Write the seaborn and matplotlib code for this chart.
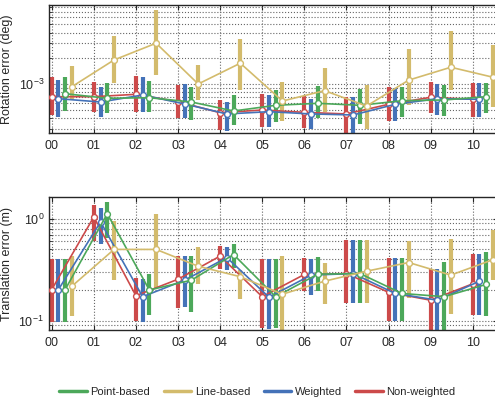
import numpy as np
import pandas as pd
import seaborn as sns
import matplotlib.pyplot as plt
from matplotlib.lines import Line2D

# sequences
seqs = ['00', '01', '02', '03', '04', '05', '06', '07', '08', '09', '10']

# rotation error (deg), x 1e-3: median, lower, upper
rot_red = [0.71, 0.71, 0.757, 0.621, 0.461, 0.496, 0.466, 0.446, 0.578, 0.698, 0.662]
rot_red_lo = [0.434, 0.47, 0.474, 0.397, 0.289, 0.316, 0.308, 0.25, 0.369, 0.454, 0.407]
rot_red_hi = [1.2, 1.06, 1.24, 0.966, 0.65, 0.757, 0.729, 0.71, 0.915, 1.05, 1.03]

rot_blue = [0.673, 0.615, 0.743, 0.583, 0.446, 0.474, 0.446, 0.434, 0.578, 0.673, 0.662]
rot_blue_lo = [0.414, 0.414, 0.474, 0.397, 0.282, 0.311, 0.297, 0.25, 0.372, 0.434, 0.414]
rot_blue_hi = [1.11, 0.915, 1.2, 0.99, 0.621, 0.743, 0.673, 0.71, 0.891, 1.0, 1.02]

rot_green = [0.77, 0.68, 0.691, 0.615, 0.483, 0.563, 0.594, 0.563, 0.637, 0.65, 0.71]
rot_green_lo = [0.483, 0.454, 0.474, 0.379, 0.331, 0.362, 0.397, 0.34, 0.407, 0.422, 0.454]
rot_green_hi = [1.22, 1.02, 1.08, 0.915, 0.743, 0.851, 0.947, 0.881, 0.93, 0.966, 1.04]

rot_yel = [0.93, 1.91, 3.0, 1.0, 1.75, 0.632, 0.835, 0.552, 1.11, 1.57, 1.2]
rot_yel_lo = [0.662, 1.035, 1.27, 0.65, 0.851, 0.372, 0.474, 0.295, 0.568, 0.851, 0.542]
rot_yel_hi = [1.62, 3.65, 7.35, 1.66, 3.34, 1.05, 1.53, 0.98, 2.55, 4.2, 2.86]

# translation error (m)
tr_red = [0.202, 1.04, 0.176, 0.255, 0.43, 0.172, 0.284, 0.29, 0.19, 0.159, 0.23]
tr_red_lo = [0.098, 0.61, 0.10, 0.132, 0.325, 0.085, 0.195, 0.15, 0.099, 0.07, 0.114]
tr_red_hi = [0.404, 1.35, 0.263, 0.43, 0.54, 0.407, 0.416, 0.614, 0.416, 0.318, 0.45]

tr_blue = [0.202, 0.93, 0.172, 0.25, 0.416, 0.17, 0.28, 0.29, 0.185, 0.159, 0.244]
tr_blue_lo = [0.098, 0.57, 0.098, 0.135, 0.313, 0.083, 0.18, 0.15, 0.1, 0.07, 0.114]
tr_blue_hi = [0.404, 1.28, 0.255, 0.43, 0.53, 0.407, 0.40, 0.614, 0.416, 0.318, 0.45]

tr_green = [0.202, 1.12, 0.2, 0.25, 0.445, 0.172, 0.286, 0.29, 0.185, 0.172, 0.227]
tr_green_lo = [0.098, 0.64, 0.114, 0.123, 0.33, 0.084, 0.195, 0.15, 0.1, 0.07, 0.111]
tr_green_hi = [0.404, 1.45, 0.29, 0.43, 0.56, 0.407, 0.42, 0.62, 0.41, 0.377, 0.47]

tr_yel = [0.218, 0.50, 0.50, 0.342, 0.27, 0.182, 0.244, 0.306, 0.372, 0.28, 0.397]
tr_yel_lo = [0.11, 0.25, 0.207, 0.23, 0.165, 0.075, 0.145, 0.148, 0.166, 0.116, 0.25]
tr_yel_hi = [0.43, 0.95, 1.12, 0.53, 0.313, 0.43, 0.37, 0.62, 0.6, 0.638, 0.78]

methods = ['Non-weighted', 'Weighted', 'Point-based', 'Line-based']
colors = {'Non-weighted': '#cc4a4a', 'Weighted': '#4472b8',
          'Point-based': '#4ca85a', 'Line-based': '#d3bb6c'}
offsets = {'Non-weighted': 0.0, 'Weighted': 0.16, 'Point-based': 0.32, 'Line-based': 0.48}


def make_df(mid, lo, hi, scale=1.0):
    rows = []
    for m, (a, b, c) in zip(methods, zip(mid, lo, hi)):
        for i in range(len(seqs)):
            rows.append({'method': m, 'x': i + offsets[m],
                         'val': a[i] * scale, 'lo': b[i] * scale, 'hi': c[i] * scale})
    return pd.DataFrame(rows)


df_rot = make_df([rot_red, rot_blue, rot_green, rot_yel],
                 [rot_red_lo, rot_blue_lo, rot_green_lo, rot_yel_lo],
                 [rot_red_hi, rot_blue_hi, rot_green_hi, rot_yel_hi], 1e-3)
df_tr = make_df([tr_red, tr_blue, tr_green, tr_yel],
                [tr_red_lo, tr_blue_lo, tr_green_lo, tr_yel_lo],
                [tr_red_hi, tr_blue_hi, tr_green_hi, tr_yel_hi])

sns.set_style('ticks')
plt.rcParams['font.family'] = ['Liberation Sans', 'DejaVu Sans']


def draw_panel(ax, df, ylim, ylabel):
    for m in methods:
        d = df[df.method == m]
        ax.vlines(d.x, d.lo, d.hi, color=colors[m], lw=3.0, zorder=2)
    for m in methods:
        d = df[df.method == m]
        sns.lineplot(data=d, x='x', y='val', ax=ax, color=colors[m], lw=1.2,
                     marker='o', markersize=4.2, markerfacecolor='white',
                     markeredgecolor=colors[m], markeredgewidth=1.0,
                     zorder=3, legend=False)
    ax.set_yscale('log')
    ax.set_ylim(*ylim)
    ax.set_xlim(-0.064, 10.6)
    ax.set_xticks(range(len(seqs)))
    ax.set_xticklabels(seqs)
    ax.set_xlabel('')
    ax.set_ylabel(ylabel, fontsize=9)
    ax.grid(True, which='major', axis='x', ls=':', color='#666666', lw=0.8)
    ax.grid(True, which='both', axis='y', ls=':', color='#666666', lw=0.8)
    ax.tick_params(axis='both', which='both', direction='in', top=True, right=True, labelsize=9)
    ax.tick_params(axis='x', pad=5)
    ax.tick_params(axis='y', which='minor', labelleft=False)
    for s in ax.spines.values():
        s.set_linewidth(1.0)


fig = plt.figure(figsize=(4.95, 4.03), dpi=100)
ax1 = fig.add_axes([0.099, 0.670, 0.907, 0.3176])
ax2 = fig.add_axes([0.099, 0.181, 0.907, 0.330])

draw_panel(ax1, df_rot, (2.67e-4, 8.4e-3), 'Rotation error (deg)')
draw_panel(ax2, df_tr, (0.081, 1.63), 'Translation error (m)')

labels = ['Point-based', 'Line-based', 'Weighted', 'Non-weighted']
handles = [Line2D([], [], color=colors[m], lw=2.5) for m in labels]
fig.legend(handles, labels,
           loc='center', bbox_to_anchor=(0.52, 0.028), ncol=4, frameon=False,
           fontsize=8, handlelength=2.5, handletextpad=0.3, columnspacing=1.2)

fig.savefig('out.png', dpi=100)
